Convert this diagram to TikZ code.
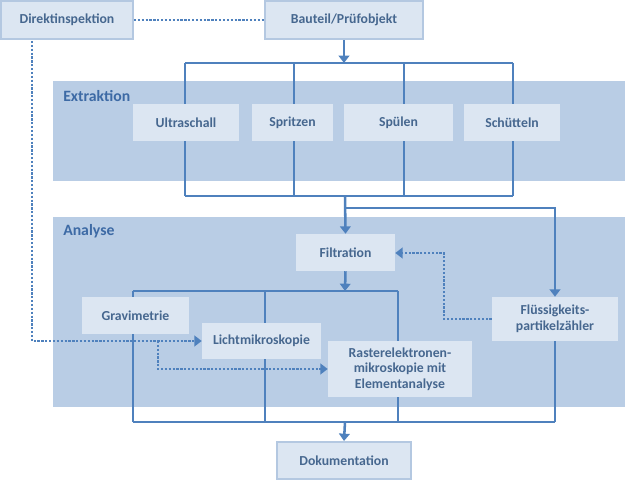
\documentclass[tikz,border=0pt]{standalone}
\usepackage{fontspec}
\setmainfont{Carlito}
\usetikzlibrary{arrows.meta}
\definecolor{panelc}{HTML}{B9CDE5}
\definecolor{boxc}{HTML}{DCE6F2}
\definecolor{boxborder}{HTML}{B4C8E1}
\definecolor{linec}{HTML}{4F81BD}
\definecolor{txtc}{HTML}{46678F}
\definecolor{labc}{HTML}{3D6AA5}
\pgfdeclarelayer{panel}
\pgfdeclarelayer{lines}
\pgfsetlayers{panel,lines,main}
\tikzset{
  box/.style={fill=boxc, draw=none, inner sep=0pt, align=center, text=txtc,
    font=\bfseries\fontsize{10.3}{11.8}\selectfont},
  framed/.style={box, draw=boxborder, line width=1.5pt},
  panelbox/.style={fill=panelc, draw=none},
  panellabel/.style={text=labc, font=\bfseries\fontsize{11.8}{13}\selectfont, anchor=west, inner sep=0pt},
  conn/.style={draw=linec, line width=1.9pt},
  arr/.style={conn, -{Triangle[width=8pt,length=5.5pt]}},
  dotline/.style={draw=linec, line width=1.8pt, dash pattern=on 1.7pt off 1.2pt},
  dotarr/.style={dotline, -{Triangle[width=8pt,length=5.5pt]}},
}
\begin{document}
\begin{tikzpicture}[x=0.75pt,y=-0.75pt]
\useasboundingbox (0,0) rectangle (626,481);
% panels
\begin{pgfonlayer}{panel}
\fill[panelbox] (53,81) rectangle (625,181);
\fill[panelbox] (53,217) rectangle (625,407);
\end{pgfonlayer}
\node[panellabel] (lextr) at (63,96) {Extraktion};
\node[panellabel] (lana) at (63,231) {Analyse};
% boxes
\node[framed, minimum width=132*0.75pt, minimum height=38*0.75pt] (direkt) at (67,20) {Direktinspektion};
\node[framed, minimum width=158*0.75pt, minimum height=38*0.75pt] (bauteil) at (344,20) {Bauteil/Prüfobjekt};
\node[box, minimum width=106*0.75pt, minimum height=37*0.75pt] (ultra) at (186,122.5) {Ultraschall};
\node[box, minimum width=81*0.75pt, minimum height=37*0.75pt] (spritz) at (292.5,122.5) {Spritzen};
\node[box, minimum width=109*0.75pt, minimum height=37*0.75pt] (spuel) at (398.5,122.5) {Spülen};
\node[box, minimum width=96*0.75pt, minimum height=37*0.75pt] (schuet) at (512,122.5) {Schütteln};
\node[box, minimum width=99*0.75pt, minimum height=37*0.75pt] (filt) at (345.5,252.5) {Filtration};
\node[box, minimum width=126*0.75pt, minimum height=44*0.75pt] (fluess) at (555,319) {Flüssigkeits-\\partikelzähler};
\node[box, minimum width=107*0.75pt, minimum height=37*0.75pt] (grav) at (135.5,315.5) {Gravimetrie};
\node[box, minimum width=119*0.75pt, minimum height=36*0.75pt] (licht) at (261.5,341) {Lichtmikroskopie};
\node[box, minimum width=144*0.75pt, minimum height=56*0.75pt] (raster) at (400,369) {Rasterelektronen-\\mikroskopie mit\\Elementanalyse};
\node[framed, minimum width=134*0.75pt, minimum height=37*0.75pt] (doku) at (344,460.5) {Dokumentation};
% coordinates
\coordinate (t1) at (185,63); \coordinate (t2) at (294,63); \coordinate (t3) at (404,63); \coordinate (t4) at (513,63);
\coordinate (tin) at (344,63);
\coordinate (b1) at (185,196); \coordinate (b2) at (294,196); \coordinate (b3) at (404,196); \coordinate (b4) at (513,196);
\coordinate (bout) at (345,196);
\coordinate (br) at (345,208); \coordinate (brr) at (555,208);
\coordinate (a1) at (133,291); \coordinate (a2) at (265,291); \coordinate (a3) at (398,291);
\coordinate (ain) at (345,291);
\coordinate (c1) at (133,422); \coordinate (c2) at (265,422); \coordinate (c3) at (398,422); \coordinate (c4) at (555,422);
\coordinate (cout) at (345,422);
\coordinate (fd1) at (444,319); \coordinate (fd2) at (444,253);
\coordinate (d0) at (32,41);
\coordinate (d1) at (158,341);
% connectors
\begin{pgfonlayer}{lines}
\draw[dotline] (direkt.east) -- (bauteil.west);
\draw[arr] (bauteil.south) -- (tin);
\draw[conn] (t1) -- (t4);
\draw[conn] (t1) -- (b1);
\draw[conn] (t2) -- (b2);
\draw[conn] (t3) -- (b3);
\draw[conn] (t4) -- (b4);
\draw[conn] (b1) -- (b4);
\draw[arr] (bout) -- (filt.north);
\draw[arr] (br) -- (brr) -- (fluess.north);
\draw[arr] (filt.south) -- (ain);
\draw[conn] (a1) -- (a3);
\draw[conn] (a1) -- (c1);
\draw[conn] (a2) -- (c2);
\draw[conn] (a3) -- (c3);
\draw[conn] (fluess.south) -- (c4);
\draw[conn] (c1) -- (c4);
\draw[arr] (cout) -- (doku.north);
\draw[dotarr] (fluess.west |- fd1) -- (fd1) -- (fd2) -- (filt.east |- fd2);
\draw[dotarr] (d0) |- (licht.west);
\draw[dotarr] (d1) |- (raster.west);
\end{pgfonlayer}
\end{tikzpicture}
\end{document}
